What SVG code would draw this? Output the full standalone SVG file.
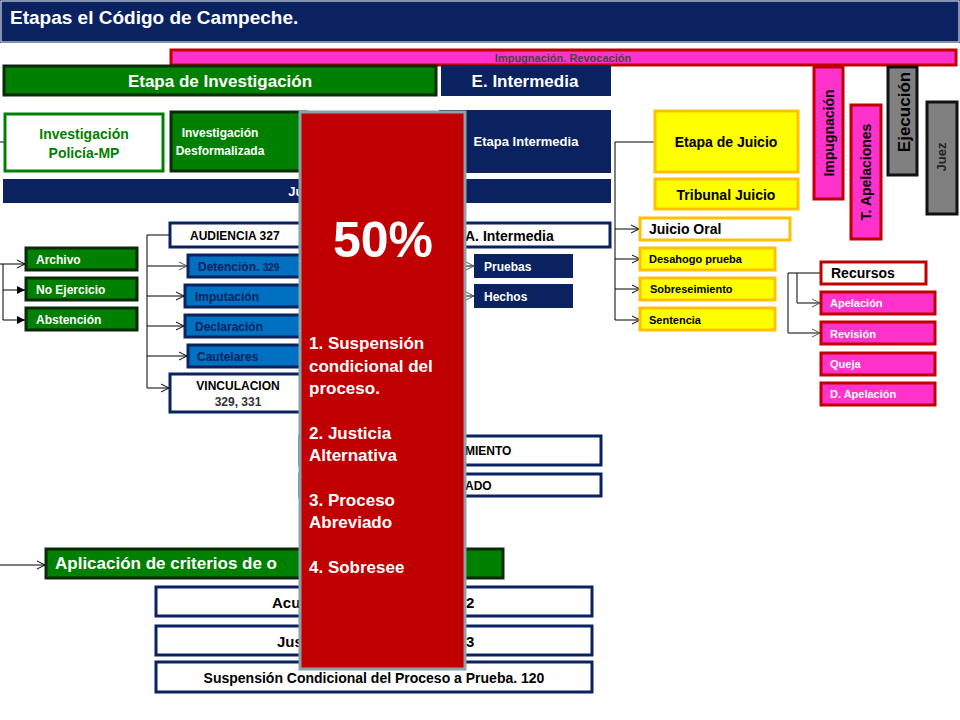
<svg xmlns="http://www.w3.org/2000/svg" width="960" height="720" viewBox="0 0 960 720">
<defs>
<marker id="a" markerWidth="10" markerHeight="10" refX="9" refY="5" orient="auto" markerUnits="userSpaceOnUse"><path d="M1,1 L9,5 L1,9" fill="none" stroke="#000" stroke-width="1"/></marker>
<marker id="g" markerWidth="10" markerHeight="10" refX="9" refY="5" orient="auto" markerUnits="userSpaceOnUse"><path d="M1,1 L9,5 L1,9" fill="none" stroke="#555" stroke-width="1"/></marker>
<marker id="f" markerWidth="10" markerHeight="10" refX="9" refY="5" orient="auto" markerUnits="userSpaceOnUse"><path d="M1,1 L9,5 L1,9 z" fill="#000"/></marker>
</defs>
<style>
text{font-family:"Liberation Sans",Arial,sans-serif;font-weight:bold}
.gr{fill:#008000;stroke:#0a2a0a;stroke-width:3}
.nv{fill:#0a2260;stroke:#0a2260;stroke-width:2}
.wb{fill:#fff;stroke:#0a2260;stroke-width:3}
.bl{fill:#0070c0;stroke:#0a2260;stroke-width:3}
.ye{fill:#ffff00;stroke:#ffc000;stroke-width:3}
.pk{fill:#ff33cc;stroke:#c00000;stroke-width:3}
.gy{fill:#808080;stroke:#111;stroke-width:3}
.w{fill:#fff}
.k{fill:#000}
.c{text-anchor:middle}
.ln{fill:none;stroke:#000;stroke-width:1}
.lg{fill:none;stroke:#555;stroke-width:1.5}
</style>
<rect width="960" height="720" fill="#fff"/>
<g id="title"><rect x="0" y="0" width="960" height="43" fill="#0a2260"/><rect x="1" y="1" width="958" height="41" fill="none" stroke="#fff" stroke-width="1"/><text x="10" y="24" font-size="19" class="w">Etapas el Código de Campeche.</text></g>

<g id="connectors">
<path class="ln" d="M0,142 H5"/>
<path class="ln" d="M3,264 V320"/>
<path class="ln" d="M0,264 H25" marker-end="url(#a)"/>
<path class="ln" d="M3,290 H25" marker-end="url(#f)"/>
<path class="ln" d="M3,320 H25" marker-end="url(#f)"/>
<path class="ln" d="M147,235 V388 M147,235 H170"/>
<path class="lg" d="M147,266 H187" marker-end="url(#g)"/>
<path class="ln" d="M147,296 H184" marker-end="url(#a)"/>
<path class="ln" d="M147,326 H184" marker-end="url(#a)"/>
<path class="ln" d="M147,356 H187" marker-end="url(#a)"/>
<path class="ln" d="M147,388 H169" marker-end="url(#a)"/>
<path class="lg" d="M466,266 H474" marker-end="url(#g)"/>
<path class="lg" d="M466,296 H474" marker-end="url(#g)"/>
<path class="ln" d="M615,142 H655 M615,142 V320"/>
<path class="ln" d="M615,229 H639" marker-end="url(#a)"/>
<path class="ln" d="M615,259 H640" marker-end="url(#a)"/>
<path class="ln" d="M615,289 H640" marker-end="url(#a)"/>
<path class="ln" d="M615,320 H640" marker-end="url(#a)"/>
<path class="ln" d="M788,273 H821 M788,273 V333 M797,273 V303"/>
<path class="lg" d="M797,303 H820" marker-end="url(#g)"/>
<path class="lg" d="M788,333 H820" marker-end="url(#g)"/>
<path class="ln" d="M0,565 H45" marker-end="url(#a)"/>
</g>

<g id="impug-bar"><rect class="pk" x="171" y="50" width="785" height="15"/><text x="563" y="62" font-size="11" class="c" fill="#444" font-weight="normal">Impugnación.  Revocación</text></g>
<g id="etapa-inv"><rect class="gr" x="4" y="66" width="432" height="29"/><text x="220" y="87" font-size="17" class="c w">Etapa de Investigación</text></g>
<g id="e-intermedia"><rect class="nv" x="442" y="66" width="168" height="29"/><text x="525" y="87" font-size="17" class="c w" font-weight="normal">E. Intermedia</text></g>
<g id="inv-policia"><rect fill="#fff" stroke="#008000" stroke-width="3" x="5" y="114" width="158" height="57"/><text x="84" y="139" font-size="14" class="c" fill="#008000">Investigación</text><text x="84" y="158" font-size="14" class="c" fill="#008000">Policía-MP</text></g>
<g id="inv-desf"><rect class="gr" x="171" y="112" width="135" height="59"/><text x="220" y="137" font-size="12" class="c w">Investigación</text><text x="220" y="155" font-size="12" class="c w">Desformalizada</text></g>
<g id="etapa-intermedia"><rect class="nv" x="440" y="111" width="170" height="61"/><text x="526" y="146" font-size="13" class="c w">Etapa Intermedia</text></g>
<g id="juez-de"><rect class="nv" x="4" y="180" width="606" height="22"/><text x="312" y="196" font-size="13" class="c w">Juez de</text></g>
<g id="archivo"><rect class="gr" x="26" y="248" width="111" height="22"/><text x="36" y="264" font-size="12" class="w">Archivo</text></g>
<g id="noejercicio"><rect class="gr" x="26" y="278" width="111" height="22"/><text x="36" y="294" font-size="12" class="w">No Ejercicio</text></g>
<g id="abstencion"><rect class="gr" x="26" y="308" width="111" height="22"/><text x="36" y="324" font-size="12" class="w">Abstención</text></g>
<g id="audiencia"><rect class="wb" x="170" y="223" width="440" height="24"/><text x="190" y="240" font-size="12" class="k" font-weight="normal">AUDIENCIA  327</text><text x="465" y="241" font-size="14" class="k" font-weight="normal">A. Intermedia</text></g>
<g id="detencion"><rect class="bl" x="188" y="255" width="120" height="22"/><text x="198" y="271" font-size="12" fill="#0a2260" font-weight="normal">Detención.  <tspan font-size="10">329</tspan></text></g>
<g id="imputacion"><rect class="bl" x="185" y="285" width="123" height="22"/><text x="195" y="301" font-size="12" fill="#0a2260" font-weight="normal">Imputación</text></g>
<g id="declaracion"><rect class="bl" x="185" y="315" width="123" height="22"/><text x="195" y="331" font-size="12" fill="#0a2260" font-weight="normal">Declaración</text></g>
<g id="cautelares"><rect class="bl" x="188" y="345" width="120" height="22"/><text x="197" y="361" font-size="12" fill="#0a2260" font-weight="normal">Cautelares</text></g>
<g id="vinculacion"><rect class="wb" x="170" y="374" width="140" height="38"/><text x="238" y="390" font-size="12" class="c k" font-weight="normal">VINCULACION</text><text x="238" y="406" font-size="12" class="c" fill="#333" font-weight="normal">329, 331</text></g>
<g id="pruebas"><rect class="nv" x="475" y="255" width="97" height="22"/><text x="484" y="271" font-size="12" class="w" font-weight="normal">Pruebas</text></g>
<g id="hechos"><rect class="nv" x="475" y="285" width="97" height="22"/><text x="484" y="301" font-size="12" class="w" font-weight="normal">Hechos</text></g>
<g id="sobreseimiento-b"><rect class="wb" x="300" y="436" width="301" height="29"/><text x="465" y="455" font-size="12" class="k" font-weight="normal">MIENTO</text></g>
<g id="abreviado-b"><rect class="wb" x="300" y="474" width="301" height="22"/><text x="465" y="490" font-size="12" class="k" font-weight="normal">ADO</text></g>
<g id="aplicacion"><rect class="gr" x="46" y="549" width="457" height="29"/><text x="55" y="569" font-size="17" class="w">Aplicación de criterios de o</text></g>
<g id="acuerdo"><rect class="wb" x="156" y="587" width="436" height="29"/><text x="272" y="608" font-size="15" class="k">Acu</text><text x="466" y="608" font-size="15" class="k">2</text></g>
<g id="justicia"><rect class="wb" x="156" y="626" width="436" height="29"/><text x="277" y="647" font-size="15" class="k">Jus</text><text x="466" y="647" font-size="15" class="k">3</text></g>
<g id="suspension"><rect class="wb" x="156" y="662" width="436" height="30"/><text x="374" y="683" font-size="14" class="c k">Suspensión Condicional del Proceso a Prueba. 120</text></g>

<g id="overlay"><rect x="300" y="112" width="165" height="557" fill="#c00000" stroke="#8fa0a8" stroke-width="3"/>
<text x="383" y="257" font-size="50" class="c w">50%</text>
<g font-size="17" class="w"><text x="309" y="349" class="w">1. Suspensión</text><text x="309" y="372" class="w">condicional del</text><text x="309" y="394" class="w">proceso.</text>
<text x="309" y="439" class="w">2. Justicia</text><text x="309" y="461" class="w">Alternativa</text>
<text x="309" y="506" class="w">3. Proceso</text><text x="309" y="528" class="w">Abreviado</text>
<text x="309" y="573" class="w">4. Sobresee</text></g></g>

<g id="etapa-juicio"><rect class="ye" x="655" y="111" width="143" height="61"/><text x="726" y="147" font-size="14" class="c k">Etapa de Juicio</text></g>
<g id="tribunal"><rect class="ye" x="655" y="179" width="143" height="30"/><text x="726" y="200" font-size="14" class="c k">Tribunal Juicio</text></g>
<g id="juicio-oral"><rect fill="#fff" stroke="#ffc000" stroke-width="3" x="640" y="218" width="150" height="22"/><text x="649" y="234" font-size="14" class="k">Juicio Oral</text></g>
<g id="desahogo"><rect class="ye" x="640" y="248" width="135" height="22"/><text x="649" y="263" font-size="11" class="k">Desahogo  prueba</text></g>
<g id="sobreseimiento"><rect class="ye" x="640" y="278" width="135" height="22"/><text x="650" y="293" font-size="11" class="k">Sobreseimiento</text></g>
<g id="sentencia"><rect class="ye" x="640" y="308" width="135" height="22"/><text x="649" y="324" font-size="11" class="k">Sentencia</text></g>
<g id="impugnacion"><rect class="pk" x="814" y="67" width="29" height="132"/><text transform="translate(834,133) rotate(-90)" font-size="14" class="c k">Impugnación</text></g>
<g id="t-apelaciones"><rect class="pk" x="851" y="105" width="30" height="134"/><text transform="translate(871,172) rotate(-90)" font-size="14" class="c k">T. Apelaciones</text></g>
<g id="ejecucion"><rect class="gy" x="888" y="67" width="29" height="108"/><text transform="translate(910,112) rotate(-90)" font-size="17" class="c k">Ejecución</text></g>
<g id="juez"><rect class="gy" x="927" y="102" width="30" height="112"/><text transform="translate(946,157) rotate(-90)" font-size="13" class="c" fill="#222">Juez</text></g>
<g id="recursos"><rect fill="#fff" stroke="#c00000" stroke-width="3" x="821" y="262" width="105" height="22"/><text x="831" y="278" font-size="14" class="k">Recursos</text></g>
<g id="apelacion"><rect class="pk" x="821" y="292" width="114" height="22"/><text x="830" y="307" font-size="11" class="w">Apelación</text></g>
<g id="revision"><rect class="pk" x="821" y="322" width="114" height="22"/><text x="830" y="338" font-size="11" class="w">Revisión</text></g>
<g id="queja"><rect class="pk" x="821" y="353" width="114" height="22"/><text x="830" y="368" font-size="11" class="w">Queja</text></g>
<g id="d-apelacion"><rect class="pk" x="821" y="383" width="114" height="22"/><text x="830" y="398" font-size="11" class="w">D. Apelación</text></g>
</svg>
